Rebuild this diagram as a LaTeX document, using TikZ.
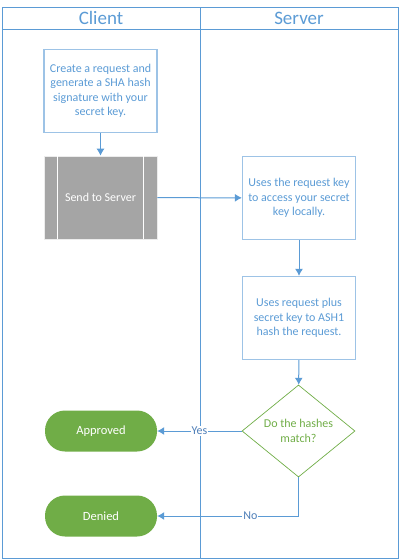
\documentclass[tikz,border=0pt]{standalone}
\usepackage{fontspec}
\setmainfont{Carlito}
\usetikzlibrary{arrows.meta,shapes.geometric}

\definecolor{laneblue}{HTML}{5B9BD5}
\definecolor{boxblue}{HTML}{9DC3E6}
\definecolor{labelblue}{HTML}{4F7FB8}
\definecolor{okgreen}{HTML}{70AD47}
\definecolor{sendgray}{HTML}{A5A5A5}

\tikzset{
    lane/.style={draw=laneblue, line width=0.8pt},
    lanetitle/.style={text=laneblue, font=\fontsize{19}{22}\selectfont},
    procbox/.style={draw=boxblue, line width=1.3pt, minimum width=113pt, minimum height=83pt,
        text=laneblue, align=center, inner sep=2pt, font=\fontsize{12}{14.5}\selectfont},
    sendbox/.style={draw=white!85!gray, line width=0.6pt, fill=sendgray, minimum width=113pt,
        minimum height=83pt, text=white, font=\fontsize{12}{14.5}\selectfont},
    decision/.style={diamond, draw=okgreen, line width=0.7pt, minimum width=113pt, minimum height=83pt,
        inner sep=0pt, text=okgreen, align=center, font=\fontsize{12}{14.5}\selectfont},
    terminal/.style={rectangle, rounded corners=20pt, fill=okgreen, minimum width=112pt,
        minimum height=41pt, text=white, font=\fontsize{12.5}{14.5}\selectfont},
    flow/.style={draw=laneblue, line width=1pt, -{Latex[length=7pt,width=8pt]}},
    answer/.style={fill=white, inner sep=1pt, text=labelblue, font=\fontsize{12}{14}\selectfont}
}

\begin{document}
\begin{tikzpicture}[x=1pt, y=-1pt]
    \useasboundingbox (0,0) rectangle (400,560);

    % Swimlanes
    \draw[lane] (2,7) rectangle (398,558);
    \draw[lane] (2,29) -- (398,29);
    \draw[lane] (200,7) -- (200,558);
    \node[lanetitle] (client) at (101,18) {Client};
    \node[lanetitle] (server) at (299,18) {Server};

    % Client side
    \node[procbox] (create) at (100.5,91) {Create a request and\\generate a SHA hash\\signature with your\\secret key.};
    \node[sendbox] (send) at (100.5,197.5) {Send to Server};
    \draw[white, line width=1pt] ([xshift=14pt]send.north west) -- ([xshift=14pt]send.south west);
    \draw[white, line width=1pt] ([xshift=-14pt]send.north east) -- ([xshift=-14pt]send.south east);

    % Server side
    \node[procbox] (lookup) at (299,198) {Uses the request key\\to access your secret\\key locally.};
    \node[procbox] (hashreq) at (299,318) {Uses request plus\\secret key to ASH1\\hash the request.};
    \node[decision] (match) at (298.5,431) {Do the hashes\\match?};

    % Results
    \node[terminal] (approved) at (101,431) {Approved};
    \node[terminal] (denied) at (101,516) {Denied};

    % Connectors
    \draw[flow] (create) -- (send);
    \draw[flow] (send) -- (lookup);
    \draw[flow] (lookup) -- (hashreq);
    \draw[flow] (hashreq) -- (match);
    \draw[flow] (match) -- node[answer] {Yes} (approved);
    \draw[flow] (match.south) |- node[answer, pos=0.67] {No} (denied);
\end{tikzpicture}
\end{document}
